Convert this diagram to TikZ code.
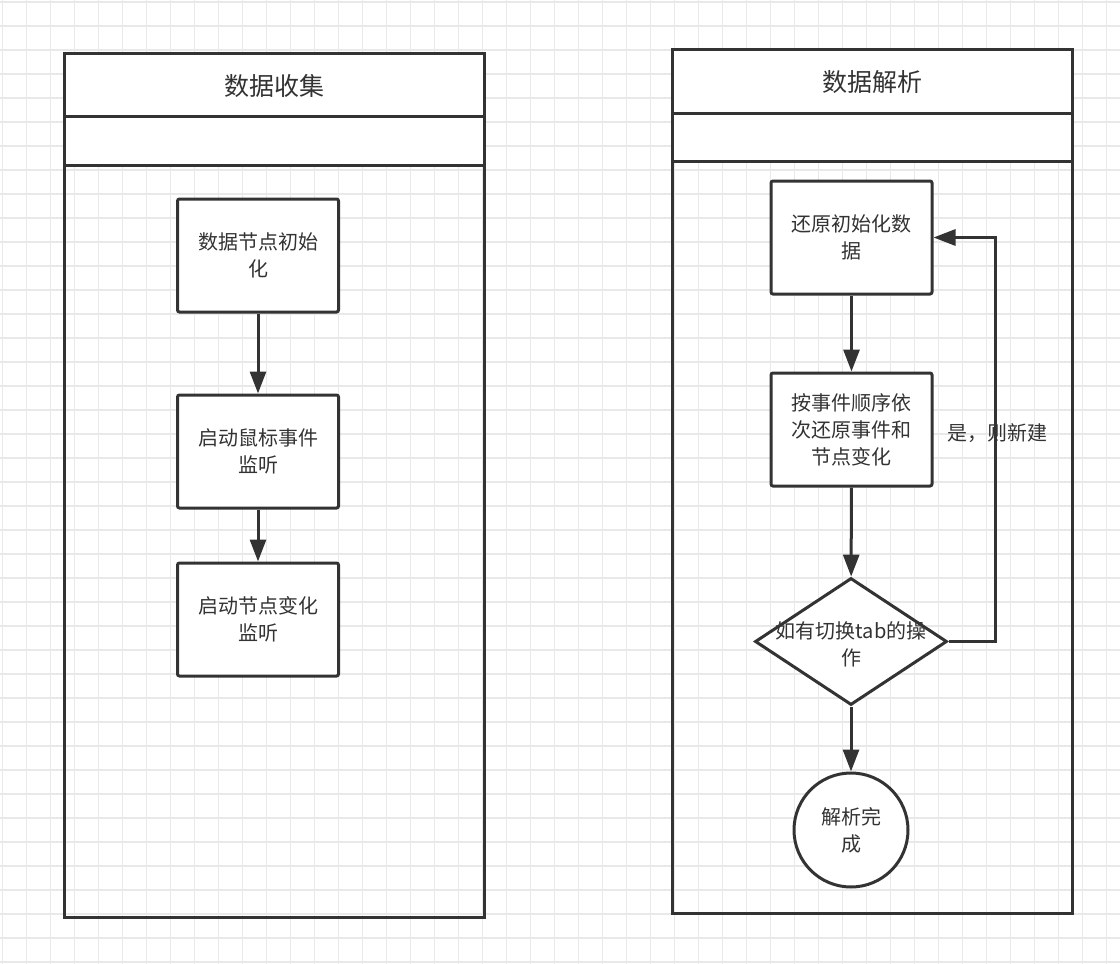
\documentclass[tikz,border=0pt]{standalone}
\usepackage{fontspec}
\newfontfamily\cjk{Noto Sans CJK SC}
\usetikzlibrary{arrows.meta,shapes.geometric}
\definecolor{ink}{HTML}{333333}
\definecolor{gridc}{HTML}{E9E9E9}
\tikzset{
  gridline/.style={draw=gridc, line width=1.5pt},
  lane/.style={draw=ink, line width=3pt},
  title/.style={font=\cjk\fontsize{25}{30}\selectfont, text=ink},
  stepbox/.style={draw=ink, line width=3pt, fill=white, rounded corners=2pt,
    minimum width=161pt, minimum height=113pt, inner sep=0pt, align=center,
    font=\cjk\fontsize{20}{27}\selectfont, text=ink},
  txt/.style={font=\cjk\fontsize{20}{27}\selectfont, text=ink, align=center, inner sep=0pt},
  flow/.style={draw=ink, line width=3pt, -{Triangle[length=22pt,width=16pt]}},
}
\begin{document}
\begin{tikzpicture}[x=1pt,y=-1pt]
\useasboundingbox (0,0) rectangle (1120,964);
\fill[white] (0,0) rectangle (1120,964);
% background grid
\foreach \i in {0,...,46} \draw[gridline] ({2.7+24*\i},0) -- ({2.7+24*\i},964);
\foreach \j in {0,...,40} \draw[gridline] (0,{2+24*\j}) -- (1120,{2+24*\j});

% left lane
\fill[white] (64,53) rectangle (484,165);
\draw[lane] (64,53) rectangle (484,917);
\draw[lane] (64,116) -- (484,116);
\draw[lane] (64,165) -- (484,165);
\node[title] (t1) at (274,86) {数据收集};

% right lane
\fill[white] (672,49) rectangle (1072,161);
\draw[lane] (672,49) rectangle (1072,913);
\draw[lane] (672,113) -- (1072,113);
\draw[lane] (672,161) -- (1072,161);
\node[title] (t2) at (872,82) {数据解析};

% left flow
\node[stepbox] (a1) at (258,255.5) {数据节点初始\\化};
\node[stepbox] (a2) at (258,451.5) {启动鼠标事件\\监听};
\node[stepbox] (a3) at (258,619.5) {启动节点变化\\监听};
\draw[flow] (a1) -- (a2);
\draw[flow] (a2) -- (a3);

% right flow
\node[stepbox] (b1) at (851.5,237.5) {还原初始化数\\据};
\node[stepbox] (b2) at (851.5,429.5) {按事件顺序依\\次还原事件和\\节点变化};
\node[diamond, draw=ink, line width=3pt, fill=white, minimum width=192pt,
      minimum height=127pt, inner sep=0pt] (d) at (851,641.5) {};
\node[txt] (dt) at (851,644) {如有切换tab的操\\作};
\node[circle, draw=ink, line width=3pt, fill=white, minimum size=114pt,
      inner sep=0pt, txt] (e) at (851,830) {解析完\\成};
\draw[flow] (b1) -- (b2);
\draw[flow] (b2) -- (d);
\draw[flow] (d) -- (e);
\coordinate (c1) at (995,641.5);
\coordinate (c2) at (995,237.5);
\draw[flow] (d.east) -- (c1) -- (c2) -- (b1.east);
\node[txt] (lbl) at (997,433) {是，则新建};
\end{tikzpicture}
\end{document}
